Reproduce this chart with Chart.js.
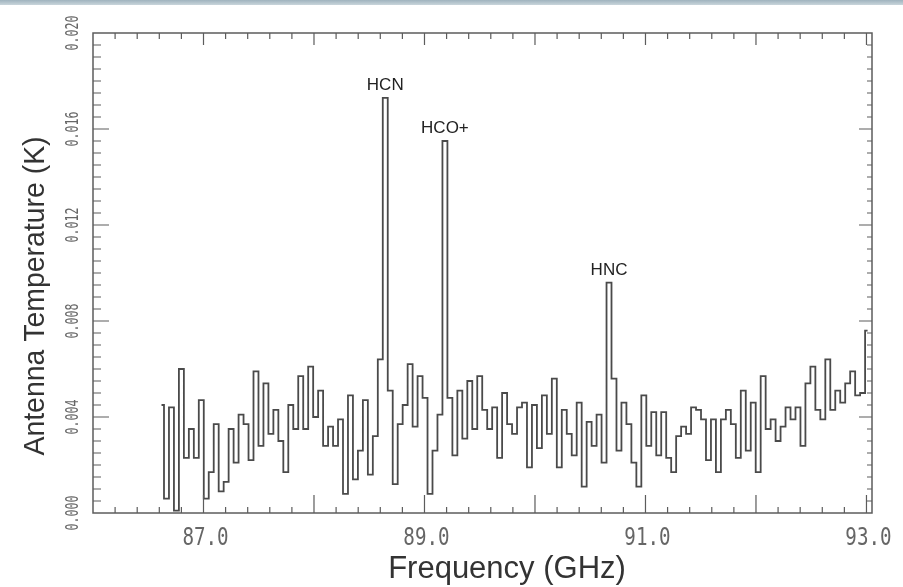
<!DOCTYPE html>
<html>
<head>
<meta charset="utf-8">
<script src="https://cdn.jsdelivr.net/npm/chart.js@4.4.1/dist/chart.umd.min.js"></script>
<style>
  html, body { margin: 0; padding: 0; background: #ffffff; }
  canvas { display: block; }
</style>
</head>
<body>
<canvas id="grafico" width="903" height="587"></canvas>
<script>
// channel centre frequencies (GHz)
const freqGHz = [
  86.620, 86.665, 86.710, 86.755, 86.800, 86.845, 86.890, 86.935, 86.980, 87.025,
  87.070, 87.115, 87.160, 87.205, 87.250, 87.295, 87.340, 87.385, 87.430, 87.475,
  87.520, 87.565, 87.610, 87.655, 87.700, 87.745, 87.790, 87.835, 87.880, 87.925,
  87.970, 88.015, 88.060, 88.105, 88.150, 88.195, 88.240, 88.285, 88.330, 88.375,
  88.420, 88.465, 88.510, 88.555, 88.600, 88.645, 88.690, 88.735, 88.780, 88.825,
  88.870, 88.915, 88.960, 89.005, 89.050, 89.095, 89.140, 89.185, 89.230, 89.275,
  89.320, 89.365, 89.410, 89.455, 89.500, 89.545, 89.590, 89.635, 89.680, 89.725,
  89.770, 89.815, 89.860, 89.905, 89.950, 89.995, 90.040, 90.085, 90.130, 90.175,
  90.220, 90.265, 90.310, 90.355, 90.400, 90.445, 90.490, 90.535, 90.580, 90.625,
  90.670, 90.715, 90.760, 90.805, 90.850, 90.895, 90.940, 90.985, 91.030, 91.075,
  91.120, 91.165, 91.210, 91.255, 91.300, 91.345, 91.390, 91.435, 91.480, 91.525,
  91.570, 91.615, 91.660, 91.705, 91.750, 91.795, 91.840, 91.885, 91.930, 91.975,
  92.020, 92.065, 92.110, 92.155, 92.200, 92.245, 92.290, 92.335, 92.380, 92.425,
  92.470, 92.515, 92.560, 92.605, 92.650, 92.695, 92.740, 92.785, 92.830, 92.875,
  92.920, 92.965, 93.010
];

// antenna temperature (K) per channel
const antennaTemp = [
  0.0045, 0.0006, 0.0044, 0.0001, 0.0060, 0.0023, 0.0035, 0.0023, 0.0047, 0.0006,
  0.0017, 0.0037, 0.0009, 0.0013, 0.0035, 0.0021, 0.0041, 0.0037, 0.0022, 0.0059,
  0.0028, 0.0054, 0.0033, 0.0043, 0.0030, 0.0017, 0.0045, 0.0035, 0.0057, 0.0035,
  0.0061, 0.0040, 0.0051, 0.0028, 0.0036, 0.0028, 0.0039, 0.0008, 0.0049, 0.0014,
  0.0026, 0.0047, 0.0016, 0.0032, 0.0064, 0.0173, 0.0051, 0.0012, 0.0037, 0.0045,
  0.0062, 0.0036, 0.0057, 0.0048, 0.0008, 0.0026, 0.0041, 0.0155, 0.0048, 0.0024,
  0.0051, 0.0031, 0.0055, 0.0035, 0.0057, 0.0043, 0.0035, 0.0044, 0.0023, 0.0050,
  0.0037, 0.0033, 0.0044, 0.0046, 0.0019, 0.0045, 0.0027, 0.0049, 0.0033, 0.0056,
  0.0019, 0.0043, 0.0033, 0.0024, 0.0046, 0.0011, 0.0038, 0.0028, 0.0041, 0.0021,
  0.0096, 0.0056, 0.0026, 0.0046, 0.0037, 0.0021, 0.0011, 0.0049, 0.0028, 0.0042,
  0.0024, 0.0042, 0.0023, 0.0017, 0.0032, 0.0036, 0.0033, 0.0044, 0.0043, 0.0039,
  0.0022, 0.0039, 0.0017, 0.0039, 0.0043, 0.0037, 0.0023, 0.0051, 0.0026, 0.0046,
  0.0017, 0.0057, 0.0035, 0.0039, 0.0030, 0.0036, 0.0044, 0.0039, 0.0044, 0.0028,
  0.0054, 0.0061, 0.0043, 0.0039, 0.0064, 0.0043, 0.0051, 0.0046, 0.0054, 0.0059,
  0.0049, 0.0050, 0.0076
];

// line identifications
const lineNames = ["HCN", "HCO+", "HNC"];
const lineFreqs = [88.645, 89.185, 90.670];

// tick labels
const xTickLabels = ["87.0", "89.0", "91.0", "93.0"];
const yTickLabels = ["0.000", "0.004", "0.008", "0.012", "0.016", "0.020"];
const xMajorTicks = [87, 88, 89, 90, 91, 92, 93];

const corEixo = "#5c5c5c";
const corTexto = "#333333";

function textoEstreito(ctx, texto, x, y, escala, angulo) {
    ctx.save();
    ctx.translate(x, y);
    if (angulo) ctx.rotate(angulo);
    ctx.scale(escala, 1);
    ctx.fillText(texto, 0, 0);
    ctx.restore();
}

const molduraPlugin = {
    id: "moldura",
    beforeDraw(chart) {
        const ctx = chart.ctx;
        ctx.save();
        ctx.fillStyle = "#ffffff";
        ctx.fillRect(0, 0, chart.width, chart.height);
        const grad = ctx.createLinearGradient(0, 0, 0, 5);
        grad.addColorStop(0, "#9fb3be");
        grad.addColorStop(1, "#c9d5db");
        ctx.fillStyle = grad;
        ctx.fillRect(0, 0, chart.width, 5);
        ctx.restore();
    },
    afterDraw(chart) {
        const ctx = chart.ctx;
        const a = chart.chartArea;
        const sx = chart.scales.x;
        const sy = chart.scales.y;

        ctx.save();
        ctx.strokeStyle = corEixo;
        ctx.lineWidth = 1.5;
        ctx.strokeRect(a.left, a.top, a.right - a.left, a.bottom - a.top);

        // ticks pointing inward on all four sides
        ctx.lineWidth = 1.2;
        ctx.beginPath();
        for (let k = 1; k <= 35; k++) {
            const v = 86 + k * 0.2;
            if (v > sx.max) break;
            const x = sx.getPixelForValue(v);
            const major = xMajorTicks.some(t => Math.abs(t - v) < 0.01);
            const len = major ? 18 : 6;
            ctx.moveTo(x, a.bottom); ctx.lineTo(x, a.bottom - len);
            ctx.moveTo(x, a.top); ctx.lineTo(x, a.top + (major ? 12 : 6));
        }
        for (let k = 1; k < 40; k++) {
            const v = k * 0.0005;
            const y = sy.getPixelForValue(v);
            const major = k % 8 === 0;
            ctx.moveTo(a.left, y); ctx.lineTo(a.left + (major ? 16 : 8), y);
            ctx.moveTo(a.right, y); ctx.lineTo(a.right - (major ? 13 : 5), y);
        }
        ctx.stroke();

        // tick labels
        ctx.fillStyle = "#666666";
        ctx.textAlign = "center";
        ctx.textBaseline = "alphabetic";
        ctx.font = "24px 'DejaVu Sans Mono'";
        xTickLabels.forEach(t => {
            const x = sx.getPixelForValue(parseFloat(t));
            textoEstreito(ctx, t, x + 2, 545, 0.8, 0);
        });
        ctx.font = "17px 'DejaVu Sans Mono'";
        yTickLabels.forEach(t => {
            const y = sy.getPixelForValue(parseFloat(t));
            textoEstreito(ctx, t, 78, y, 0.68, -Math.PI / 2);
        });

        // axis titles
        ctx.fillStyle = corTexto;
        ctx.font = "29px 'Liberation Sans'";
        textoEstreito(ctx, "Antenna Temperature (K)", 44, 296, 0.98, -Math.PI / 2);
        ctx.font = "31px 'Liberation Sans'";
        textoEstreito(ctx, "Frequency (GHz)", 507, 578, 1, 0);

        // line names above the peaks
        ctx.font = "17px 'Liberation Sans'";
        ctx.fillStyle = "#222222";
        lineNames.forEach((nome, i) => {
            let idx = 0;
            freqGHz.forEach((f, j) => {
                if (Math.abs(f - lineFreqs[i]) < Math.abs(freqGHz[idx] - lineFreqs[i])) idx = j;
            });
            const x = sx.getPixelForValue(freqGHz[idx]);
            const y = sy.getPixelForValue(antennaTemp[idx]);
            ctx.fillText(nome, x, y - 8);
        });
        ctx.restore();
    }
};

function criarGrafico() {
    const ctx = document.getElementById("grafico").getContext("2d");
    const pontos = freqGHz.map((f, i) => ({ x: f, y: antennaTemp[i] }));

    return new Chart(ctx, {
        type: "line",
        data: {
            datasets: [{
                data: pontos,
                stepped: "middle",
                borderColor: "#4a4a4a",
                borderWidth: 1.8,
                pointRadius: 0,
                fill: false
            }]
        },
        options: {
            responsive: false,
            animation: false,
            events: [],
            layout: { padding: { left: 0, right: 31, top: 33, bottom: 0 } },
            plugins: {
                legend: { display: false },
                tooltip: { enabled: false }
            },
            scales: {
                x: {
                    type: "linear",
                    min: 86.0,
                    max: 93.05,
                    grid: { display: false },
                    border: { display: false },
                    ticks: { display: false },
                    afterFit(s) { s.height = 74; }
                },
                y: {
                    min: 0,
                    max: 0.020,
                    grid: { display: false },
                    border: { display: false },
                    ticks: { display: false },
                    afterFit(s) { s.width = 93; }
                }
            }
        },
        plugins: [molduraPlugin]
    });
}

window.onload = criarGrafico;
</script>
</body>
</html>
